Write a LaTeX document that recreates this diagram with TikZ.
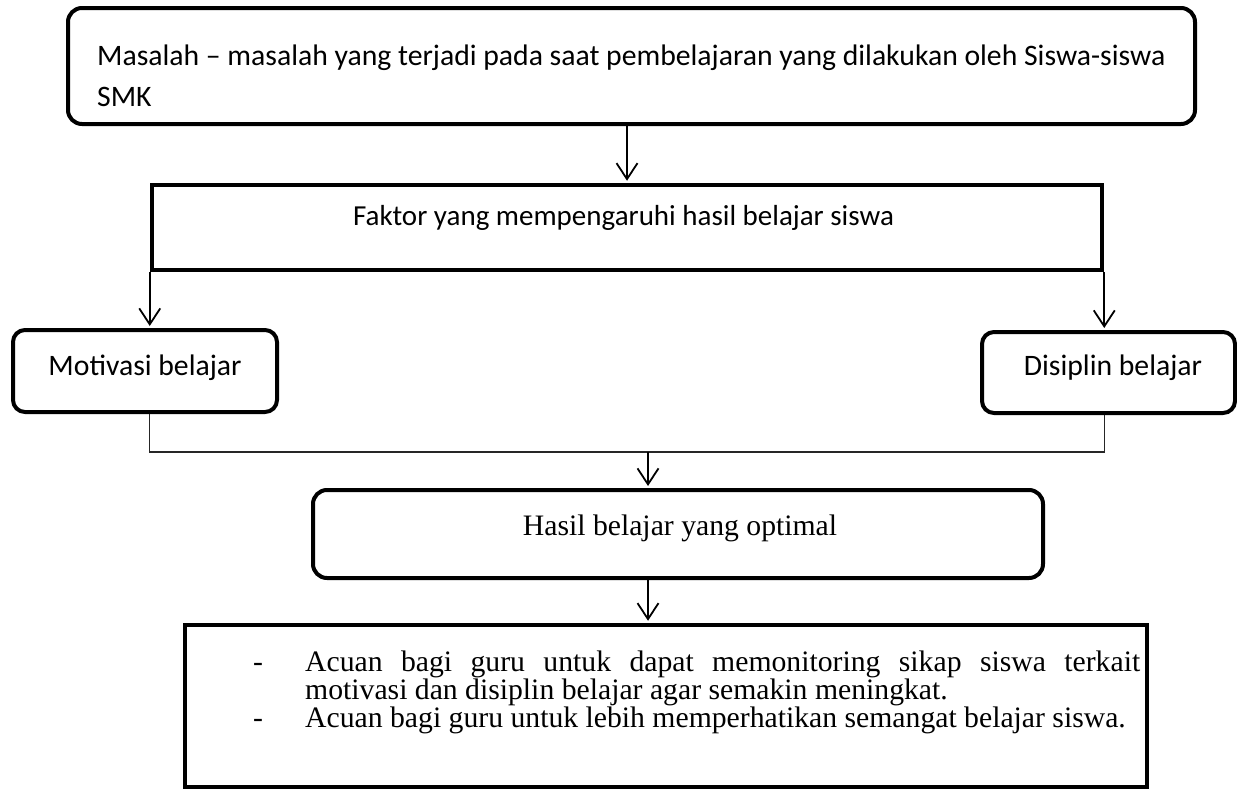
\documentclass[tikz,border=0pt]{standalone}
\usepackage{fontspec}
\setmainfont{Liberation Serif}
\newfontfamily\calfont{Carlito}
\usetikzlibrary{arrows.meta}
\begin{document}
\begin{tikzpicture}[x=1pt,y=-1pt,
  rbox/.style={draw, line width=4pt, rounded corners=14pt, inner sep=0pt},
  sbox/.style={draw, line width=4.5pt, inner sep=0pt},
  arr/.style={line width=1.8pt, shorten >=2pt, -{Straight Barb[length=16pt,width=21pt,line width=1.8pt]}},
  conn/.style={line width=1.1pt, black!85},
  ctext/.style={font=\calfont\fontsize{29.7}{41}\selectfont, inner sep=0pt},
  ttext/.style={font=\fontsize{29.7}{28}\selectfont, inner sep=0pt},
]
\useasboundingbox (0,0) rectangle (1237,790);

\node[rbox, minimum width=1127pt, minimum height=116pt] (top) at (631.5,66) {};
\node[ctext, anchor=north west, align=left] (toptext) at (97,45)
  {Masalah – masalah yang terjadi pada saat pembelajaran yang dilakukan oleh Siswa-siswa\\SMK};

\node[sbox, minimum width=950pt, minimum height=85pt] (faktor) at (627,227.5) {};
\node[ctext, font=\calfont\fontsize{29}{35}\selectfont, anchor=base] (faktortext) at (623.5,225) {Faktor yang mempengaruhi hasil belajar siswa};

\node[rbox, rounded corners=12pt, minimum width=264pt, minimum height=82pt] (moti) at (145,371) {};
\node[ctext, anchor=base] (motitext) at (145,375) {Motivasi belajar};

\node[rbox, rounded corners=12pt, minimum width=253pt, minimum height=81pt] (disi) at (1108.5,372.5) {};
\node[ctext, anchor=base] (disitext) at (1113,375) {Disiplin belajar};

\node[rbox, minimum width=730pt, minimum height=88pt] (hasil) at (678,534) {};
\node[ttext, anchor=base] (hasiltext) at (680,535) {Hasil belajar yang optimal};

\node[sbox, minimum width=962pt, minimum height=162pt] (bottom) at (666,706) {};
\node[ttext, anchor=north west] (bullets) at (253,651) {\parbox{887pt}{%
  \setlength{\parindent}{0pt}%
  \hangindent=52pt\hangafter=1\makebox[52pt][l]{-}Acuan bagi guru untuk dapat memonitoring sikap siswa terkait\linebreak motivasi dan disiplin belajar agar semakin meningkat.\par
  \hangindent=52pt\hangafter=1\makebox[52pt][l]{-}Acuan bagi guru untuk lebih memperhatikan semangat belajar siswa.\par}};

\coordinate (j) at (648,452);
\draw[arr] (faktor.north |- top.south) -- (faktor.north);
\draw[arr] (faktor.south west) -- (faktor.south west |- moti.north);
\draw[arr] (faktor.south east) -- (faktor.south east |- disi.north);
\draw[conn] (faktor.south west |- moti.south) -- (faktor.south west |- j) -- (faktor.south east |- j) -- (faktor.south east |- disi.south);
\draw[arr] (j) -- (j |- hasil.north);
\draw[arr] (hasil.south -| j) -- (j |- bottom.north);
\end{tikzpicture}
\end{document}
